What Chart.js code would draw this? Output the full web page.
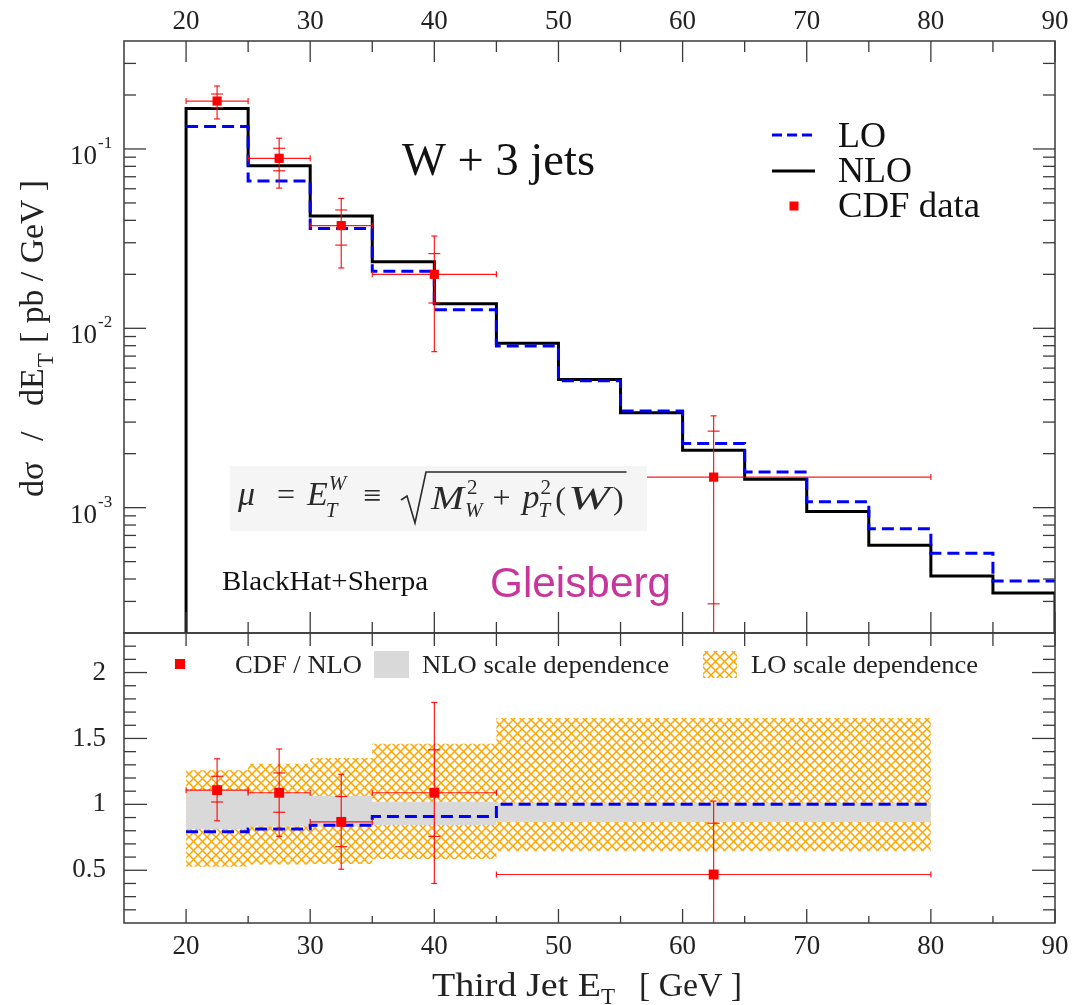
<!DOCTYPE html>
<html>
<head>
<meta charset="utf-8">
<script src="https://cdn.jsdelivr.net/npm/chart.js@4.4.1/dist/chart.umd.min.js"></script>
<style>
html, body { margin: 0; padding: 0; background: #fff; }
#wrap { position: relative; width: 1072px; height: 1005px; }
#wrap canvas { position: absolute; left: 0; top: 0; }
</style>
</head>
<body>
<div id="wrap">
  <canvas id="topChart" width="1072" height="1005"></canvas>
  <canvas id="ratioChart" width="1072" height="1005"></canvas>
</div>
<script>
// ---- data ----
// upper panel: d sigma / dET in pb/GeV, 5 GeV bins from 20 to 90
var binEdges = [20, 25, 30, 35, 40, 45, 50, 55, 60, 65, 70, 75, 80, 85, 90];
var nloXsec = [0.168, 0.0807, 0.0423, 0.0235, 0.0137, 0.00826, 0.00519, 0.00338, 0.00209, 0.00144, 0.000953, 0.000618, 0.000416, 0.000334];
var loXsec = [0.1334, 0.0662, 0.0360, 0.0208, 0.0127, 0.00798, 0.00510, 0.00346, 0.00228, 0.00158, 0.00108, 0.000763, 0.000557, 0.000390];

// CDF data points
var cdfX = [22.5, 27.5, 32.5, 40, 62.5];
var cdfXLow = [20, 25, 30, 35, 45];
var cdfXHigh = [25, 30, 35, 45, 80];
var cdfXsec = [0.185, 0.0887, 0.0374, 0.0200, 0.00148];
var cdfStatLow = [0.170, 0.0756, 0.0291, 0.01384, 0.000291];
var cdfStatHigh = [0.2025, 0.1009, 0.0457, 0.0261, 0.00267];
var cdfTotLow = [0.147, 0.0605, 0.0217, 0.00741, 0.0001];
var cdfTotHigh = [0.2245, 0.1148, 0.053, 0.0327, 0.00325];

// lower panel: ratios to NLO, bins 20-25-30-35-45-80
var ratioEdges = [20, 25, 30, 35, 45, 80];
var loRatio = [0.792, 0.814, 0.842, 0.907, 1.0];
var nloBandLow = [0.814, 0.832, 0.832, 0.844, 0.866];
var nloBandHigh = [1.108, 1.083, 1.063, 1.020, 1.012];
var loBandLow = [0.526, 0.543, 0.548, 0.586, 0.644];
var loBandHigh = [1.258, 1.309, 1.351, 1.459, 1.655];
var cdfRatio = [1.108, 1.088, 0.867, 1.088, 0.468];
var cdfRatioStatLow = [1.018, 0.940, 0.679, 0.757, 0.093];
var cdfRatioStatHigh = [1.213, 1.238, 1.060, 1.414, 0.857];
var cdfRatioTotLow = [0.875, 0.757, 0.508, 0.400, 0.03];
var cdfRatioTotHigh = [1.346, 1.420, 1.228, 1.773, 1.025];

// axes
var xTickLabels = [20, 30, 40, 50, 60, 70, 80, 90];
var topDecades = [-1, -2, -3];
var ratioTicks = [0.5, 1, 1.5, 2];
var xMin = 15, xMax = 90;
var topYMin = 2e-4, topYMax = 0.4;
var ratioYMin = 0.1, ratioYMax = 2.3;

var SERIF = '"Liberation Serif", "Times New Roman", serif';
var INK = '#222';
Chart.defaults.font.family = SERIF;
Chart.defaults.color = INK;

// histogram outline: horizontal at each bin value, optional drop to floor at both ends
function histPoints(edges, vals, floor) {
    var pts = [];
    if (floor !== undefined) pts.push({x: edges[0], y: floor});
    for (var i = 0; i < vals.length; i++) pts.push({x: edges[i], y: vals[i]});
    pts.push({x: edges[edges.length - 1], y: vals[vals.length - 1]});
    if (floor !== undefined) pts.push({x: edges[edges.length - 1], y: floor});
    return pts;
}

function makeHatch() {
    var c = document.createElement('canvas');
    c.width = 9; c.height = 9;
    var g = c.getContext('2d');
    g.strokeStyle = 'rgba(255,165,0,1)';
    g.lineWidth = 1.5;
    g.beginPath();
    g.moveTo(0, 0); g.lineTo(9, 9);
    g.moveTo(9, 0); g.lineTo(0, 9);
    g.stroke();
    return g.createPattern(c, 'repeat');
}
var hatch = makeHatch();

// draws text, returns the x where it ends
function put(ctx, s, x, y, font, color, w, align) {
    ctx.save();
    ctx.font = font;
    ctx.fillStyle = color || INK;
    ctx.textBaseline = 'alphabetic';
    ctx.textAlign = align || 'left';
    var m = ctx.measureText(s).width;
    if (w) {
        ctx.translate(x, y);
        ctx.scale(w / m, 1);
        ctx.fillText(s, 0, 0);
        m = w;
    } else {
        ctx.fillText(s, x, y);
    }
    ctx.restore();
    return x + m;
}

function seg(ctx, x1, y1, x2, y2) {
    ctx.beginPath();
    ctx.moveTo(x1, y1);
    ctx.lineTo(x2, y2);
    ctx.stroke();
}

function drawFrame(ctx, a) {
    ctx.save();
    ctx.strokeStyle = '#3a3a3a';
    ctx.lineWidth = 1.5;
    ctx.strokeRect(a.left, a.top, a.right - a.left, a.bottom - a.top);
    ctx.restore();
}

function drawErrorBars(chart, xs, ys, xlo, xhi, slo, shi, tlo, thi) {
    var ctx = chart.ctx, a = chart.chartArea, sx = chart.scales.x, sy = chart.scales.y;
    ctx.save();
    ctx.beginPath();
    ctx.rect(a.left, a.top, a.right - a.left, a.bottom - a.top);
    ctx.clip();
    ctx.strokeStyle = 'rgba(255,0,0,0.9)';
    ctx.lineWidth = 1.2;
    for (var i = 0; i < xs.length; i++) {
        var px = sx.getPixelForValue(xs[i]);
        var py = sy.getPixelForValue(ys[i]);
        var x1 = sx.getPixelForValue(xlo[i]), x2 = sx.getPixelForValue(xhi[i]);
        seg(ctx, x1, py, x2, py);
        seg(ctx, x1, py - 3, x1, py + 3);
        seg(ctx, x2, py - 3, x2, py + 3);
        var yt = sy.getPixelForValue(thi[i]), yb = sy.getPixelForValue(tlo[i]);
        seg(ctx, px, yt, px, yb);
        seg(ctx, px - 3, yt, px + 3, yt);
        seg(ctx, px - 3, yb, px + 3, yb);
        var st = sy.getPixelForValue(shi[i]), sb = sy.getPixelForValue(slo[i]);
        seg(ctx, px - 6, st, px + 6, st);
        seg(ctx, px - 6, sb, px + 6, sb);
    }
    ctx.restore();
}

// ---------------- upper panel ----------------
var topDecor = {
    id: 'topDecor',
    afterDatasetsDraw: function(chart) {
        drawErrorBars(chart, cdfX, cdfXsec, cdfXLow, cdfXHigh, cdfStatLow, cdfStatHigh, cdfTotLow, cdfTotHigh);
    },
    afterDraw: function(chart) {
        var ctx = chart.ctx, a = chart.chartArea, sx = chart.scales.x, sy = chart.scales.y;
        drawFrame(ctx, a);
        ctx.save();
        ctx.strokeStyle = '#3a3a3a';
        ctx.lineWidth = 1.3;
        // x ticks on top and bottom edge
        for (var v = 20; v <= xMax; v += 5) {
            var px = sx.getPixelForValue(v);
            var len = v % 10 === 0 ? 21 : 11;
            seg(ctx, px, a.top, px, a.top + len);
            seg(ctx, px, a.bottom, px, a.bottom - len);
        }
        // log ticks left and right
        for (var e = -4; e <= -1; e++) {
            for (var m = 1; m <= 9; m++) {
                var val = m * Math.pow(10, e);
                if (val <= topYMin * 1.001 || val >= topYMax * 0.999) continue;
                var py = sy.getPixelForValue(val);
                var l = m === 1 ? 22 : 12;
                seg(ctx, a.left, py, a.left + l, py);
                seg(ctx, a.right, py, a.right - l, py);
            }
        }
        ctx.restore();

        // decade labels 10^n
        topDecades.forEach(function(d) {
            var py = sy.getPixelForValue(Math.pow(10, d));
            put(ctx, '10', 97, py + 15, '27px ' + SERIF, INK, null, 'right');
            put(ctx, '-' + Math.abs(d), 98, py - 1, '17px ' + SERIF, INK);
        });

        // y title, pieces placed along the axis
        ctx.save();
        ctx.translate(43, 497);
        ctx.rotate(-Math.PI / 2);
        var tf = '34px ' + SERIF;
        put(ctx, 'd\u03c3', 0, 0, tf, INK);
        put(ctx, '/', 56, 0, tf, INK);
        var eEnd = put(ctx, 'dE', 91, 0, tf, INK);
        put(ctx, 'T', eEnd + 1, 10, '23px ' + SERIF, INK);
        put(ctx, '[ pb / GeV ]', 154, 0, tf, INK, 163);
        ctx.restore();

        // process label
        put(ctx, 'W + 3 jets', 402, 175, '46px ' + SERIF, '#111', 193);

        // legend
        ctx.save();
        ctx.lineWidth = 3;
        ctx.strokeStyle = '#0000ff';
        ctx.setLineDash([10, 5]);
        seg(ctx, 772, 135, 815, 135);
        ctx.setLineDash([]);
        ctx.strokeStyle = '#000';
        seg(ctx, 772, 171, 815, 171);
        ctx.fillStyle = '#ff0000';
        ctx.fillRect(789.5, 201.5, 9, 9);
        ctx.restore();
        put(ctx, 'LO', 838, 147, '36px ' + SERIF, '#111');
        put(ctx, 'NLO', 838, 182, '36px ' + SERIF, '#111');
        put(ctx, 'CDF data', 838, 217, '36px ' + SERIF, '#111', 142);

        // scale choice formula
        ctx.save();
        ctx.fillStyle = '#f5f5f5';
        ctx.fillRect(230, 466, 417, 65);
        ctx.restore();
        var it = 'italic 34px ' + SERIF, rm = '32px ' + SERIF, its = 'italic 21px ' + SERIF, rms = '21px ' + SERIF;
        var fc = '#2a2a2a';
        put(ctx, '\u03bc', 238, 505, it, fc);
        put(ctx, '=', 277, 505, rm, fc);
        var ex = put(ctx, 'E', 307, 505, it, fc);
        put(ctx, 'W', ex + 1, 490, its, fc);
        put(ctx, 'T', ex - 2, 517, its, fc);
        put(ctx, '\u2261', 363, 506, rm, fc);
        var mx = put(ctx, 'M', 431, 509, it, fc, 33);
        put(ctx, '2', mx + 3, 494, rms, fc);
        var wx = put(ctx, 'W', mx + 1, 517, its, fc);
        var plx = put(ctx, '+', wx + 10, 508, rm, fc);
        var px2 = put(ctx, 'p', plx + 12, 508, it, fc);
        put(ctx, '2', px2 + 1, 494, rms, fc);
        var tx = put(ctx, 'T', px2 - 1, 517, its, fc);
        var lp = put(ctx, '(', tx + 5, 509, rm, fc);
        var wx2 = put(ctx, 'W', lp + 2, 509, it, fc, 42);
        var rp = put(ctx, ')', wx2 + 3, 509, rm, fc);
        ctx.save();
        ctx.strokeStyle = fc;
        ctx.lineWidth = 1.6;
        ctx.beginPath();
        ctx.moveTo(401, 500);
        ctx.lineTo(407, 496);
        ctx.lineTo(415, 523);
        ctx.lineTo(426, 472);
        ctx.lineTo(Math.max(rp + 3, 600), 472);
        ctx.stroke();
        ctx.restore();

        put(ctx, 'BlackHat+Sherpa', 222, 590, '27px ' + SERIF, '#111', 206);
        put(ctx, 'Gleisberg', 490, 597, '42px "Liberation Sans", Arial, sans-serif', '#c8369b', 181);
    }
};

new Chart(document.getElementById('topChart'), {
    type: 'line',
    data: {
        datasets: [
            {
                label: 'CDF data',
                type: 'scatter',
                data: cdfX.map(function(x, i) { return {x: x, y: cdfXsec[i]}; }),
                pointStyle: 'rect',
                pointRadius: 6.5,
                backgroundColor: '#ff0000',
                borderWidth: 0
            },
            {
                label: 'LO',
                data: histPoints(binEdges, loXsec),
                stepped: true,
                borderColor: '#0000ff',
                borderWidth: 3,
                borderDash: [12, 6],
                pointRadius: 0,
                fill: false
            },
            {
                label: 'NLO',
                data: histPoints(binEdges, nloXsec, topYMin),
                stepped: true,
                borderColor: '#000000',
                borderWidth: 3,
                pointRadius: 0,
                fill: false
            }
        ]
    },
    options: {
        responsive: false,
        animation: false,
        layout: { padding: { left: 124, right: 17, top: 0, bottom: 372 } },
        plugins: { legend: { display: false }, tooltip: { enabled: false } },
        scales: {
            x: {
                type: 'linear',
                position: 'top',
                min: xMin,
                max: xMax,
                afterBuildTicks: function(s) { s.ticks = xTickLabels.map(function(v) { return {value: v}; }); },
                afterFit: function(s) { s.height = 41; s.paddingLeft = 0; s.paddingRight = 0; },
                grid: { display: false, drawTicks: false },
                border: { display: false },
                ticks: { padding: 3, autoSkip: false, maxRotation: 0, font: { family: SERIF, size: 27 }, color: INK,
                         callback: function(v) { return String(v); } }
            },
            y: {
                type: 'logarithmic',
                min: topYMin,
                max: topYMax,
                display: false
            }
        }
    },
    plugins: [topDecor]
});

// ---------------- ratio panel ----------------
var ratioDecor = {
    id: 'ratioDecor',
    afterDatasetsDraw: function(chart) {
        drawErrorBars(chart, cdfX, cdfRatio, cdfXLow, cdfXHigh, cdfRatioStatLow, cdfRatioStatHigh, cdfRatioTotLow, cdfRatioTotHigh);
    },
    afterDraw: function(chart) {
        var ctx = chart.ctx, a = chart.chartArea, sx = chart.scales.x, sy = chart.scales.y;
        drawFrame(ctx, a);
        ctx.save();
        ctx.strokeStyle = '#3a3a3a';
        ctx.lineWidth = 1.3;
        for (var v = 20; v <= xMax; v += 5) {
            var px = sx.getPixelForValue(v);
            seg(ctx, px, a.top, px, a.top + 13);
            seg(ctx, px, a.bottom, px, a.bottom - (v % 10 === 0 ? 14 : 7));
        }
        for (var k = 2; k <= 22; k++) {
            var py = sy.getPixelForValue(k / 10);
            var l = k % 5 === 0 ? 23 : 12;
            seg(ctx, a.left, py, a.left + l, py);
            seg(ctx, a.right, py, a.right - l, py);
        }
        ctx.restore();

        // legend row
        ctx.save();
        ctx.fillStyle = '#ff0000';
        ctx.fillRect(175, 659, 10, 10);
        ctx.fillStyle = '#d9d9d9';
        ctx.fillRect(374, 651, 35, 27);
        ctx.fillStyle = hatch;
        ctx.fillRect(703, 651, 34, 27);
        ctx.restore();
        put(ctx, 'CDF / NLO', 235, 673, '26px ' + SERIF, INK, 127);
        put(ctx, 'NLO scale dependence', 422, 673, '26px ' + SERIF, INK, 247);
        put(ctx, 'LO scale dependence', 751, 673, '26px ' + SERIF, INK, 227);

        // x title
        put(ctx, 'Third Jet E', 432, 996, '34px ' + SERIF, INK, 169);
        put(ctx, 'T', 601, 1004, '23px ' + SERIF, INK);
        put(ctx, '[ GeV ]', 639, 996, '34px ' + SERIF, INK, 103);
    }
};

new Chart(document.getElementById('ratioChart'), {
    type: 'line',
    data: {
        datasets: [
            {
                label: 'CDF / NLO',
                type: 'scatter',
                data: cdfX.map(function(x, i) { return {x: x, y: cdfRatio[i]}; }),
                pointStyle: 'rect',
                pointRadius: 7,
                backgroundColor: '#ff0000',
                borderWidth: 0
            },
            {
                label: 'LO / NLO',
                data: histPoints(ratioEdges, loRatio),
                stepped: true,
                borderColor: '#0000ff',
                borderWidth: 3,
                borderDash: [12, 6],
                pointRadius: 0,
                fill: false
            },
            {
                label: 'NLO scale dependence',
                data: histPoints(ratioEdges, nloBandHigh),
                stepped: true,
                borderColor: 'transparent',
                borderWidth: 0,
                pointRadius: 0,
                backgroundColor: '#d9d9d9',
                fill: '+1'
            },
            {
                label: 'NLO band low',
                data: histPoints(ratioEdges, nloBandLow),
                stepped: true,
                borderColor: 'transparent',
                borderWidth: 0,
                pointRadius: 0,
                fill: false
            },
            {
                label: 'LO scale dependence',
                data: histPoints(ratioEdges, loBandHigh),
                stepped: true,
                borderColor: 'transparent',
                borderWidth: 0,
                pointRadius: 0,
                backgroundColor: hatch,
                fill: '+1'
            },
            {
                label: 'LO band low',
                data: histPoints(ratioEdges, loBandLow),
                stepped: true,
                borderColor: 'transparent',
                borderWidth: 0,
                pointRadius: 0,
                fill: false
            }
        ]
    },
    options: {
        responsive: false,
        animation: false,
        layout: { padding: { left: 0, right: 17, top: 633, bottom: 0 } },
        plugins: { legend: { display: false }, tooltip: { enabled: false } },
        scales: {
            x: {
                type: 'linear',
                position: 'bottom',
                min: xMin,
                max: xMax,
                afterBuildTicks: function(s) { s.ticks = xTickLabels.map(function(v) { return {value: v}; }); },
                afterFit: function(s) { s.height = 82; s.paddingLeft = 0; s.paddingRight = 0; },
                grid: { display: false, drawTicks: false },
                border: { display: false },
                ticks: { padding: 8, autoSkip: false, maxRotation: 0, font: { family: SERIF, size: 27 }, color: INK,
                         callback: function(v) { return String(v); } }
            },
            y: {
                type: 'linear',
                position: 'left',
                min: ratioYMin,
                max: ratioYMax,
                afterBuildTicks: function(s) { s.ticks = ratioTicks.map(function(v) { return {value: v}; }); },
                afterFit: function(s) { s.width = 124; s.paddingTop = 0; s.paddingBottom = 0; },
                grid: { display: false, drawTicks: false },
                border: { display: false },
                ticks: { padding: 18, autoSkip: false, font: { family: SERIF, size: 27 }, color: INK,
                         callback: function(v) { return String(v); } }
            }
        }
    },
    plugins: [ratioDecor]
});
</script>
</body>
</html>
